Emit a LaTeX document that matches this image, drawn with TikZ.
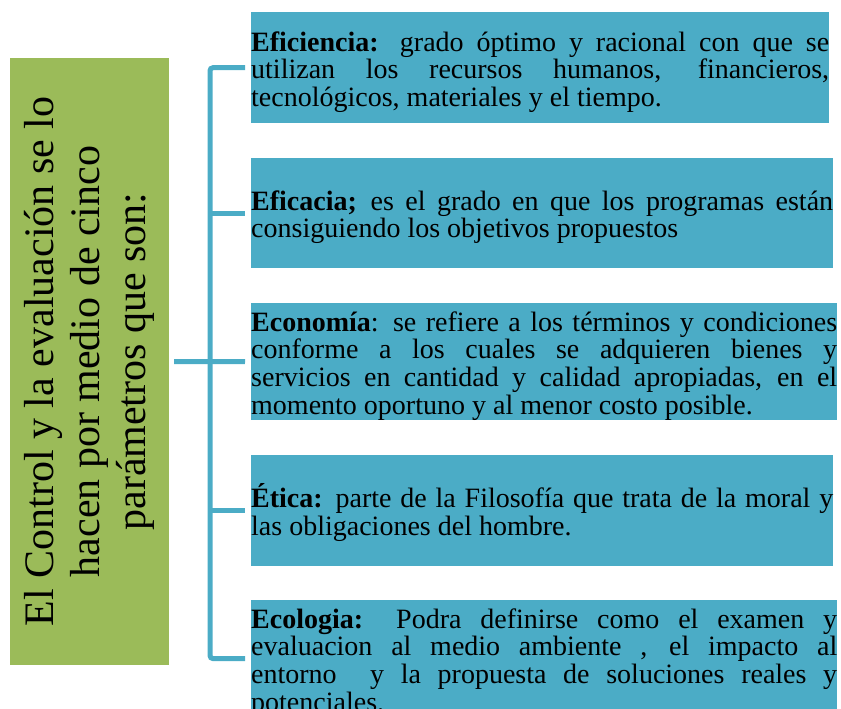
\documentclass[tikz,border=0pt]{standalone}
\usepackage{fontspec}
\setmainfont{Liberation Serif}
\definecolor{tealbox}{HTML}{4BACC6}
\definecolor{olivebox}{HTML}{9BBB59}
\newcommand{\renglon}[1]{\makebox[\linewidth][s]{#1}\\}
\tikzset{
	param/.style={fill=tealbox, inner sep=0pt, anchor=north west, align=justify,
		text height=28pt, font=\fontsize{28}{27.6}\selectfont},
	ctrlbox/.style={fill=olivebox, inner sep=0pt, align=center, rotate=90,
		font=\fontsize{42}{46}\selectfont},
	bracket/.style={draw=tealbox, line width=5pt}
}

\begin{document}
\begin{tikzpicture}[x=1pt,y=-1pt]
	\useasboundingbox (0,0) rectangle (841,709);
	\node[ctrlbox, minimum width=607, minimum height=159] (ctrl) at (89.5,361.5)
		{El Control y la evaluación se lo\\hacen por medio de cinco\\parámetros que son:};
	\node[param, text width=578, minimum height=111] (b1) at (251,12)
		{\renglon{\textbf{Eficiencia:} grado óptimo y racional con que se}\renglon{utilizan los recursos humanos, financieros,}tecnológicos, materiales y el tiempo.};
	\node[param, text width=582, minimum height=110] (b2) at (251,158)
		{\renglon{\textbf{Eficacia;} es el grado en que los programas están}consiguiendo los objetivos propuestos};
	\node[param, text width=586, minimum height=117] (b3) at (251,303)
		{\renglon{\textbf{Economía}: se refiere a los términos y condiciones}\renglon{conforme a los cuales se adquieren bienes y}\renglon{servicios en cantidad y calidad apropiadas, en el}momento oportuno y al menor costo posible.};
	\node[param, text width=582, minimum height=111] (b4) at (251,455)
		{\renglon{\textbf{Ética:} parte de la Filosofía que trata de la moral y}las obligaciones del hombre.};
	\node[param, text width=586, minimum height=114] (b5) at (251,600)
		{\renglon{\textbf{Ecologia:} Podra definirse como el examen y}\renglon{evaluacion al medio ambiente , el impacto al}\renglon{entorno\ \ y la propuesta de soluciones reales y}potenciales.};
	\coordinate (spine) at (210,0);
	\draw[bracket, rounded corners=3pt] ([xshift=-6]b1.west) -| (spine |- b5.west) -- ([xshift=-6]b5.west);
	\foreach \b in {b2,b3,b4} \draw[bracket] (spine |- \b.west) -- ([xshift=-6]\b.west);
	\draw[bracket] ([xshift=5]ctrl.south) -- ([xshift=-6]b3.west);
\end{tikzpicture}
\end{document}
